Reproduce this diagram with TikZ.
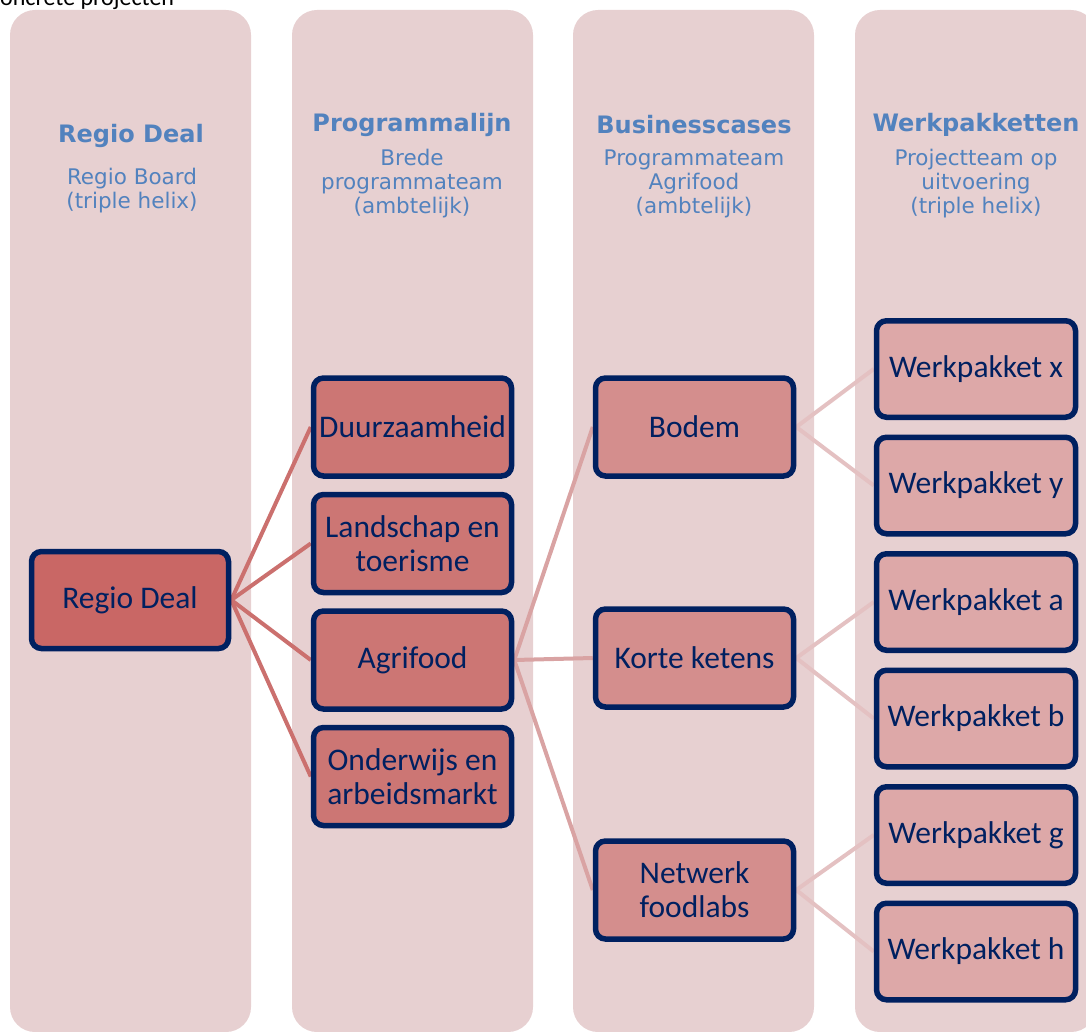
\documentclass[tikz,border=0pt]{standalone}
\usepackage{fontspec}
\setmainfont{Carlito}
\newfontfamily\headfont{DejaVu Sans}
\usetikzlibrary{positioning}
\definecolor{lanebg}{RGB}{231,208,209}
\definecolor{navy}{RGB}{0,32,96}
\definecolor{headblue}{RGB}{82,130,190}
\definecolor{fillA}{RGB}{201,103,101}
\definecolor{fillB}{RGB}{204,118,116}
\definecolor{fillC}{RGB}{212,142,141}
\definecolor{fillD}{RGB}{221,168,168}
\definecolor{linkA}{RGB}{203,112,110}
\definecolor{linkB}{RGB}{217,163,163}
\definecolor{linkC}{RGB}{228,193,194}
\tikzstyle{lane} = [fill=lanebg, rounded corners=25pt]
\tikzstyle{box} = [draw=navy, line width=5.5pt, rounded corners=10pt, align=center, text=navy, font=\fontsize{31.5}{34}\selectfont, minimum width=198pt, minimum height=98pt, inner sep=2pt]
\tikzstyle{wpbox} = [box, fill=fillD, minimum width=199pt, minimum height=96.5pt]
\tikzstyle{head} = [text=headblue, font=\headfont\bfseries\fontsize{24}{28}\selectfont, inner sep=0pt]
\tikzstyle{sub} = [text=headblue, align=center, font=\headfont\fontsize{21.5}{24}\selectfont, inner sep=0pt]
\tikzstyle{link} = [line width=4pt]
\pgfdeclarelayer{lanes}
\pgfdeclarelayer{links}
\pgfsetlayers{lanes,links,main}

\begin{document}
\begin{tikzpicture}[x=1pt, y=-1pt, node distance=13pt]
  \useasboundingbox (0,0) rectangle (1086,1032);

  \node[anchor=base west, inner sep=0pt, font=\fontsize{24}{28}\selectfont] (TT) at (0,6) {oncrete projecten};

  % kolommen
  \begin{pgfonlayer}{lanes}
    \foreach \x in {10, 292, 573, 855}
      \fill[lane] (\x,10) rectangle ++(241,1022);
  \end{pgfonlayer}

  \node[head] (H1) at (131,136) {Regio Deal};
  \node[sub] (S1) at (132,191) {Regio Board\\(triple helix)};
  \node[head] (H2) at (412,125) {Programmalijn};
  \node[sub] (S2) at (412,184) {Brede\\programmateam\\(ambtelijk)};
  \node[head] (H3) at (694,125) {Businesscases};
  \node[sub] (S3) at (694,184) {Programmateam\\Agrifood\\(ambtelijk)};
  \node[head] (H4) at (976,125) {Werkpakketten};
  \node[sub] (S4) at (976,184) {Projectteam op\\uitvoering\\(triple helix)};

  % blokken
  \node[box, fill=fillA, minimum width=197pt, minimum height=97pt] (RD) at (130,600) {Regio Deal};

  \node[box, fill=fillB] (DU) at (412.5,427) {Duurzaamheid};
  \node[box, fill=fillB, below=of DU] (LT) {Landschap en\\toerisme};
  \node[box, fill=fillB, below=of LT] (AF) {Agrifood};
  \node[box, fill=fillB, below=of AF] (OA) {Onderwijs en\\arbeidsmarkt};

  \node[box, fill=fillC] (BO) at (694.5,427) {Bodem};
  \node[box, fill=fillC] (KK) at (694.5,658) {Korte ketens};
  \node[box, fill=fillC] (NF) at (694.5,890) {Netwerk\\foodlabs};

  \node[wpbox] (WX) at (976,369) {Werkpakket x};
  \node[wpbox, below=14.5pt of WX] (WY) {Werkpakket y};
  \node[wpbox, below=14.5pt of WY] (WA) {Werkpakket a};
  \node[wpbox, below=14.5pt of WA] (WB) {Werkpakket b};
  \node[wpbox, below=14.5pt of WB] (WG) {Werkpakket g};
  \node[wpbox, below=14.5pt of WG] (WH) {Werkpakket h};

  % verbindingen
  \begin{pgfonlayer}{links}
    \foreach \n in {DU, LT, AF, OA}
      \draw[link, linkA] (RD.east) -- (\n.west);
    \foreach \n in {BO, KK, NF}
      \draw[link, linkB] (AF.east) -- (\n.west);
    \draw[link, linkC] (BO.east) -- (WX.west);
    \draw[link, linkC] (BO.east) -- (WY.west);
    \draw[link, linkC] (KK.east) -- (WA.west);
    \draw[link, linkC] (KK.east) -- (WB.west);
    \draw[link, linkC] (NF.east) -- (WG.west);
    \draw[link, linkC] (NF.east) -- (WH.west);
  \end{pgfonlayer}

\end{tikzpicture}
\end{document}
